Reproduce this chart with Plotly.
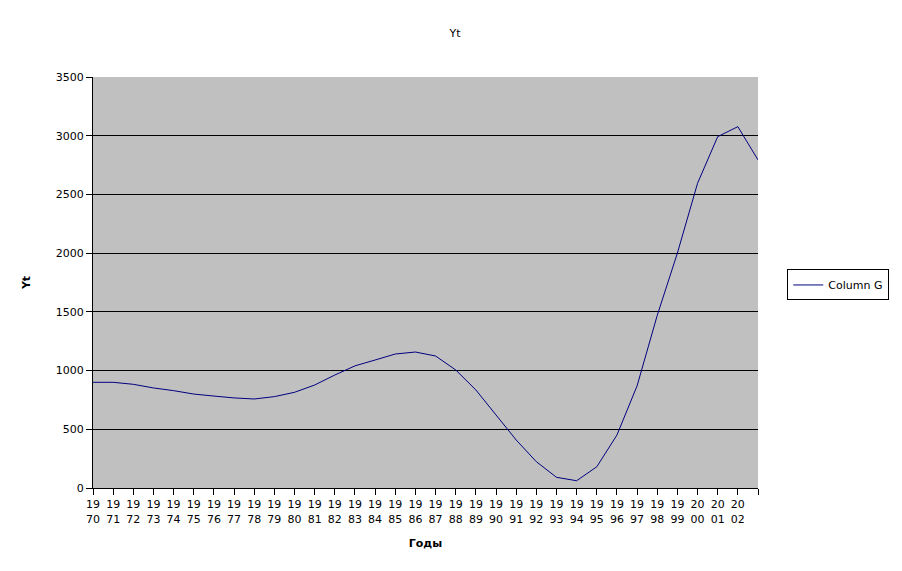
import plotly.graph_objects as go

# Годы и значения ряда Yt
years = list(range(1970, 2004))
yt = [900, 900, 883, 852, 829, 800, 783, 767, 758, 778,
      815, 877, 962, 1040, 1090, 1141, 1158, 1124, 1005, 835,
      622, 409, 224, 91, 62, 181, 451, 870, 1470, 2000,
      2595, 2992, 3077, 2794]

tick_labels = [f"{str(y)[:2]}<br>{str(y)[2:]}" for y in years[:-1]] + [""]

fig = go.Figure()

fig.add_trace(go.Scatter(
    x=years,
    y=yt,
    mode='lines',
    name='Column G',
    line=dict(color='#000080', width=1)
))

# страница html добавляет отступ 8px, поэтому размеры уменьшены
fig.update_layout(
    width=894,
    height=563,
    title=dict(text='Yt', x=0.5, xanchor='center', y=0.955, yanchor='middle',
               font=dict(size=11, color='black')),
    font=dict(family='DejaVu Sans', size=11, color='black'),
    paper_bgcolor='white',
    plot_bgcolor='#c0c0c0',
    margin=dict(l=85, r=144, t=69, b=83),
    showlegend=True,
    legend=dict(
        x=1.044, y=0.494, xanchor='left', yanchor='middle',
        bordercolor='black', borderwidth=1, bgcolor='white',
        font=dict(size=11)
    )
)

fig.update_xaxes(
    range=[1970, 2003],
    tickmode='array',
    tickvals=years,
    ticktext=tick_labels,
    ticks='outside',
    ticklen=6,
    tickcolor='black',
    showgrid=False,
    zeroline=False,
    showline=True,
    linecolor='black',
    linewidth=1,
    title=dict(text='<b>Годы</b>', standoff=14, font=dict(size=11))
)

fig.update_yaxes(
    range=[0, 3500],
    dtick=500,
    ticks='outside',
    ticklen=6,
    tickcolor='black',
    showgrid=True,
    gridcolor='black',
    gridwidth=1,
    zeroline=False,
    showline=True,
    linecolor='black',
    linewidth=1,
    title=dict(text='<b>Yt</b>', standoff=22, font=dict(size=11))
)

fig.write_html("out.html")
